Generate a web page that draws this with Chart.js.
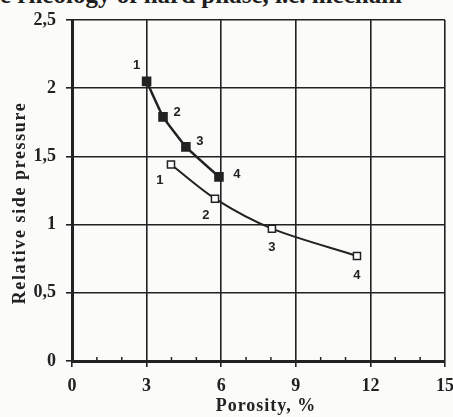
<!DOCTYPE html>
<html>
<head>
<meta charset="utf-8">
<script src="https://cdn.jsdelivr.net/npm/chart.js@4/dist/chart.umd.min.js"></script>
<style>
  html, body { margin: 0; padding: 0; background: #fbfbf9; overflow: hidden; }
  #wrap { position: relative; width: 453px; height: 417px; }
  #top { position: absolute; left: 0; top: -19px; font: bold 25px "Liberation Serif", serif; color: #1e1e1e; white-space: nowrap; }
  canvas { position: absolute; left: 0; top: 0; }
</style>
</head>
<body>
<div id="wrap">
  <div id="top">e rheology of hard phase, i.e. mechani</div>
  <canvas id="c" width="453" height="417"></canvas>
</div>
<script>
// filled squares
const porosityA = [3.0, 3.66, 4.58, 5.91];
const pressureA = [2.05, 1.79, 1.57, 1.35];
// open squares
const porosityB = [3.98, 5.75, 8.04, 11.46];
const pressureB = [1.44, 1.19, 0.97, 0.77];
const pointNames = ['1', '2', '3', '4'];
const xTicks = [0, 3, 6, 9, 12, 15];
const yTicks = [0, 0.5, 1, 1.5, 2, 2.5];
const xTitle = 'Porosity, %';
const yTitle = 'Relative side pressure';

const ink = '#222222';
const serif = '"Liberation Serif", "DejaVu Serif", serif';

// label offsets (px) for point numbers
const offA = [[-10, -16], [14, -4], [14, -5], [18, -2]];
const offB = [[-11, 16], [-9, 17], [0, 19], [0, 19]];

const extras = {
  id: 'extras',
  afterDatasetsDraw(chart) {
    const ctx = chart.ctx;
    const x = chart.scales.x, y = chart.scales.y;
    ctx.save();
    ctx.fillStyle = ink;
    ctx.font = 'bold 13px "Liberation Sans", Arial, sans-serif';
    ctx.textAlign = 'center';
    ctx.textBaseline = 'middle';
    porosityA.forEach((p, i) => {
      ctx.fillText(pointNames[i], x.getPixelForValue(p) + offA[i][0], y.getPixelForValue(pressureA[i]) + offA[i][1]);
    });
    porosityB.forEach((p, i) => {
      ctx.fillText(pointNames[i], x.getPixelForValue(p) + offB[i][0], y.getPixelForValue(pressureB[i]) + offB[i][1]);
    });
    // minor ticks on x axis
    ctx.strokeStyle = ink;
    ctx.lineWidth = 1.5;
    const yb = y.getPixelForValue(0);
    for (let v = 1; v < 15; v++) {
      if (v % 3 === 0) continue;
      const px = x.getPixelForValue(v);
      ctx.beginPath();
      ctx.moveTo(px, yb);
      ctx.lineTo(px, yb - 4);
      ctx.stroke();
    }
    // axis titles
    ctx.font = 'bold 18px ' + serif;
    ctx.letterSpacing = '1px';
    ctx.fillText(xTitle, 266, 406);
    ctx.translate(20, 203);
    ctx.rotate(-Math.PI / 2);
    ctx.letterSpacing = '1.6px';
    ctx.fillText(yTitle, 0, 0);
    ctx.restore();
  }
};

new Chart(document.getElementById('c'), {
  type: 'scatter',
  data: {
    datasets: [
      {
        data: porosityA.map((p, i) => ({ x: p, y: pressureA[i] })),
        showLine: true,
        borderColor: ink,
        borderWidth: 2.5,
        pointStyle: 'rect',
        pointRadius: 5,
        pointBackgroundColor: ink,
        pointBorderColor: ink,
        tension: 0.1
      },
      {
        data: porosityB.map((p, i) => ({ x: p, y: pressureB[i] })),
        showLine: true,
        borderColor: ink,
        borderWidth: 2,
        pointStyle: 'rect',
        pointRadius: 5,
        pointBackgroundColor: '#ffffff',
        pointBorderColor: ink,
        pointBorderWidth: 1.5,
        tension: 0.3
      }
    ]
  },
  options: {
    responsive: false,
    animation: false,
    layout: { padding: { top: 20, right: 8, left: 0, bottom: 0 } },
    plugins: { legend: { display: false }, tooltip: { enabled: false } },
    scales: {
      x: {
        type: 'linear',
        min: 0, max: 15,
        afterBuildTicks: s => { s.ticks = xTicks.map(v => ({ value: v })); },
        afterFit: s => { s.height = 56; s.paddingRight = 0; s.paddingLeft = 0; },
        grid: { color: ink, lineWidth: 1.6, tickLength: 6, drawTicks: true },
        border: { color: ink, width: 3 },
        ticks: { color: ink, font: { family: serif, size: 18, weight: 'bold' }, padding: 9 }
      },
      y: {
        min: 0, max: 2.5,
        afterBuildTicks: s => { s.ticks = yTicks.map(v => ({ value: v })); },
        afterFit: s => { s.width = 72; s.paddingTop = 0; s.paddingBottom = 0; },
        grid: { color: ink, lineWidth: 1.6, tickLength: 6 },
        border: { color: ink, width: 3 },
        ticks: {
          color: ink, font: { family: serif, size: 18, weight: 'bold' }, padding: 10,
          callback: v => String(v).replace('.', ',')
        }
      }
    }
  },
  plugins: [extras]
});
</script>
</body>
</html>
